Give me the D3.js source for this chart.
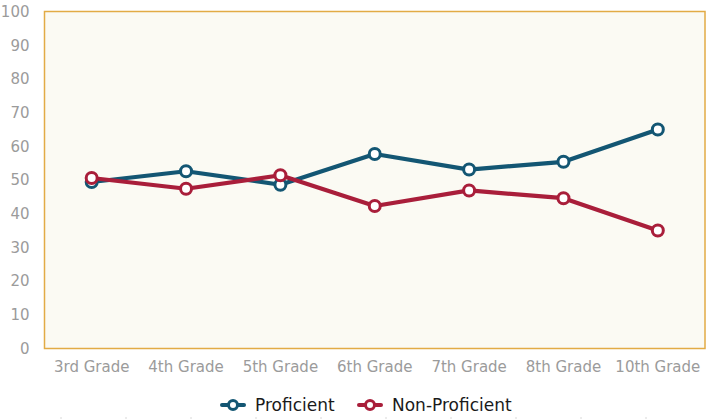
<!DOCTYPE html>
<html>
<head>
<meta charset="utf-8">
<script src="https://cdn.jsdelivr.net/npm/d3@7"></script>
<style>
  html, body { margin: 0; padding: 0; background: #fff; }
  svg { display: block; font-family: "DejaVu Sans", "Open Sans", sans-serif; }
</style>
</head>
<body>
<svg id="chart" width="712" height="419"></svg>
<script>
const categories = ["3rd Grade", "4th Grade", "5th Grade", "6th Grade", "7th Grade", "8th Grade", "10th Grade"];
const proficient = [49.4, 52.6, 48.6, 57.7, 53.1, 55.4, 65.0];
const nonProficient = [50.6, 47.4, 51.4, 42.3, 46.9, 44.6, 35.0];
const seriesNames = ["Proficient", "Non-Proficient"];
const yTicks = [0, 10, 20, 30, 40, 50, 60, 70, 80, 90, 100];

const colors = ["#135673", "#A91E3A"];
const series = [
  { name: seriesNames[0], values: proficient, color: colors[0] },
  { name: seriesNames[1], values: nonProficient, color: colors[1] }
];

const svg = d3.select("#chart");
const margin = { left: 44.5, right: 7, top: 11.5, bottom: 70.5 };
const W = 712, H = 419;
const x = d3.scaleBand().domain(categories).range([margin.left, W - margin.right]);
const y = d3.scaleLinear().domain([0, 100]).range([H - margin.bottom, margin.top]);

// plot background
svg.append("rect")
  .attr("x", margin.left).attr("y", margin.top)
  .attr("width", W - margin.right - margin.left)
  .attr("height", H - margin.bottom - margin.top)
  .attr("fill", "#FBFAF3")
  .attr("stroke", "#E2AB45")
  .attr("stroke-width", 1.5);

// y axis labels
const yAxis = d3.axisLeft(y).tickValues(yTicks).tickSize(0).tickPadding(15);
const gy = svg.append("g").attr("transform", `translate(${margin.left},0)`).call(yAxis);
gy.select(".domain").remove();
gy.selectAll("text").attr("fill", "#9b9b9b").style("font-size", "15px").style("font-family", "'DejaVu Sans', sans-serif");

// x axis labels
const xAxis = d3.axisBottom(x).tickSize(0).tickPadding(13);
const gx = svg.append("g").attr("transform", `translate(0,${H - margin.bottom})`).call(xAxis);
gx.select(".domain").remove();
gx.selectAll("text").attr("fill", "#9b9b9b").style("font-size", "15px").style("font-family", "'DejaVu Sans', sans-serif");

// lines
const line = d3.line()
  .x((d, i) => x(categories[i]) + x.bandwidth() / 2)
  .y(d => y(d));

series.forEach(s => {
  svg.append("path")
    .datum(s.values)
    .attr("d", line)
    .attr("fill", "none")
    .attr("stroke", s.color)
    .attr("stroke-width", 4.2)
    .attr("stroke-linejoin", "round");
});
series.forEach(s => {
  svg.append("g").selectAll("circle")
    .data(s.values)
    .join("circle")
    .attr("cx", (d, i) => x(categories[i]) + x.bandwidth() / 2)
    .attr("cy", d => y(d))
    .attr("r", 5.5)
    .attr("fill", "#fff")
    .attr("stroke", s.color)
    .attr("stroke-width", 3);
});

// legend
const legendItems = [
  { name: seriesNames[0], color: colors[0], x: 222 },
  { name: seriesNames[1], color: colors[1], x: 359 }
];
const lg = svg.append("g");
legendItems.forEach(it => {
  const g = lg.append("g").attr("transform", `translate(${it.x},405)`);
  g.append("line").attr("x1", 0).attr("x2", 22).attr("y1", 0).attr("y2", 0)
    .attr("stroke", it.color).attr("stroke-width", 4).attr("stroke-linecap", "round");
  g.append("circle").attr("cx", 11).attr("cy", 0).attr("r", 4.5)
    .attr("fill", "#fff").attr("stroke", it.color).attr("stroke-width", 3);
  g.append("text").attr("x", 33).attr("y", 0).attr("dy", "0.35em")
    .attr("fill", "#1a1a1a").style("font-size", "17px").text(it.name);
});

// faint bottom tick marks
const bottomTicks = d3.range(10);
svg.append("g").selectAll("line")
  .data(bottomTicks)
  .join("line")
  .attr("x1", d => 61 + d * 65).attr("x2", d => 61 + d * 65)
  .attr("y1", 417).attr("y2", 419)
  .attr("stroke", "#d8d8d8").attr("stroke-width", 1);
</script>
</body>
</html>
